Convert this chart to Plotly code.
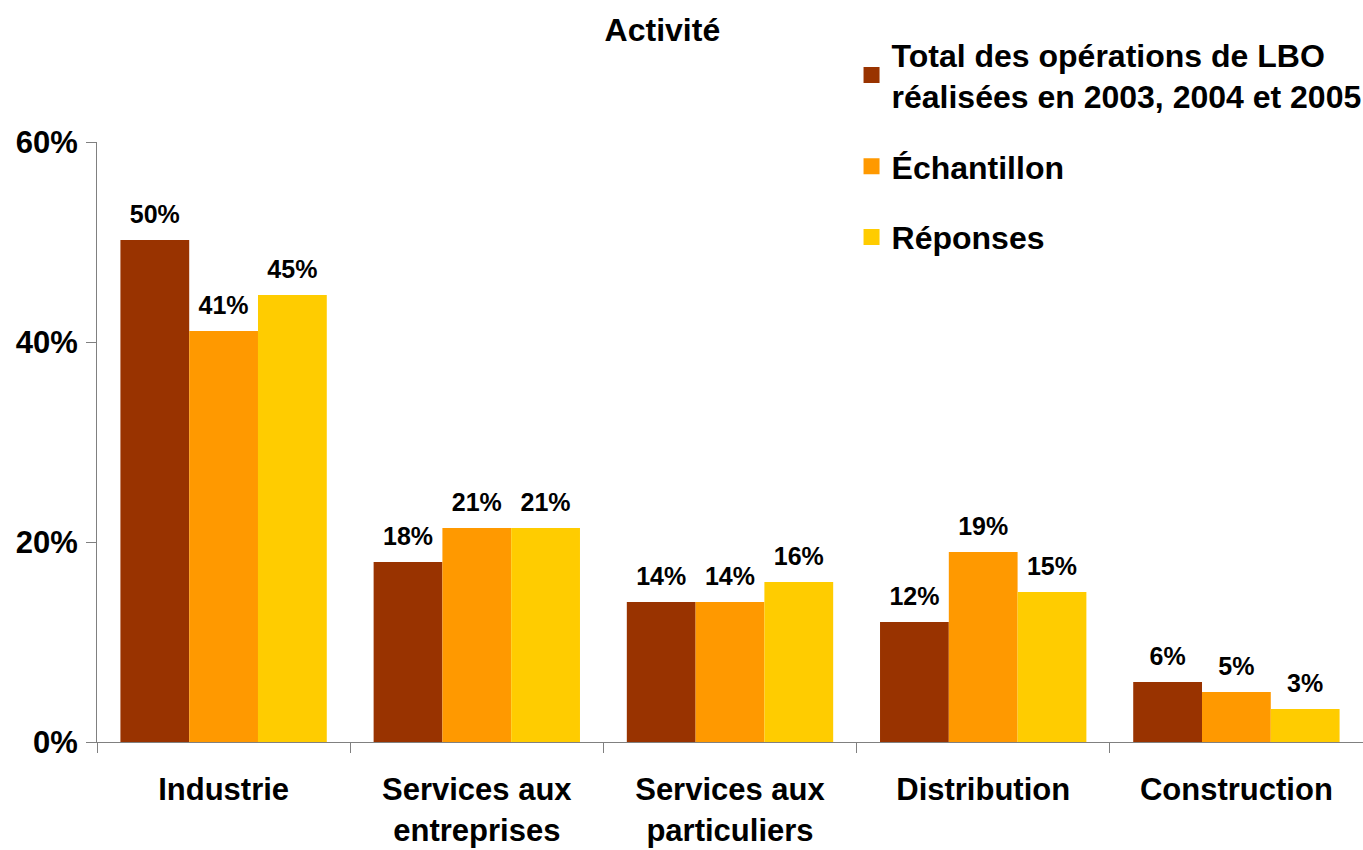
import plotly.graph_objects as go

FONT = "Liberation Sans, Arial, sans-serif"

categories = [
    "Industrie",
    "Services aux<br>entreprises",
    "Services aux<br>particuliers",
    "Distribution",
    "Construction",
]
series_names = [
    "Total des opérations de LBO<br>réalisées en 2003, 2004 et 2005",
    "Échantillon",
    "Réponses",
]
total_lbo = [50.2, 18.0, 14.0, 12.0, 6.0]
echantillon = [41.1, 21.4, 14.0, 19.0, 5.0]
reponses = [44.7, 21.4, 16.0, 15.0, 3.3]
y_ticks = [0, 20, 40, 60]
y_ticktext = [f"{v}%" for v in y_ticks]

COLORS = ["#993300", "#FF9900", "#FFCC00"]
all_series = [total_lbo, echantillon, reponses]

fig = go.Figure()
for i, (name, vals) in enumerate(zip(series_names, all_series)):
    fig.add_trace(go.Bar(
        x=categories, y=vals, name=name, offsetgroup=str(i),
        marker=dict(color=COLORS[i], line_width=0),
        showlegend=False, hoverinfo="skip",
    ))
for i, vals in enumerate(all_series):
    # value labels: grouped scatter with an invisible marker that lifts the text
    fig.add_trace(go.Scatter(
        x=categories, y=vals, mode="markers+text",
        text=[f"{v:.0f}%" for v in vals], textposition="top center",
        textfont=dict(family=FONT, size=25, color="black", weight="bold"),
        marker=dict(size=16, color="rgba(0,0,0,0)"),
        offsetgroup=str(i), showlegend=False, cliponaxis=False,
        hoverinfo="skip",
    ))
for i, name in enumerate(series_names):
    # legend-only marker so the swatch can be a bigger square
    fig.add_trace(go.Scatter(
        x=[None], y=[None], mode="markers", name=name,
        marker=dict(symbol="square", size=22, color=COLORS[i]),
        legendgroup=str(i), showlegend=True,
    ))

fig.update_layout(
    width=1363, height=850,
    font=dict(family=FONT, color="black"),
    paper_bgcolor="white", plot_bgcolor="white",
    margin=dict(l=97, r=0, t=142, b=108, autoexpand=False),
    barmode="group", bargap=0.185, bargroupgap=0,
    scattermode="group", scattergap=0.185,
    title=dict(text="<b>Activité</b>", x=0.486, xanchor="center",
               y=0.965, yanchor="middle",
               font=dict(family=FONT, size=32, color="black")),
    legend=dict(
        x=0.596, xanchor="left", y=1.192, yanchor="top",
        font=dict(family=FONT, size=32, color="black", weight="bold"),
        traceorder="grouped", tracegroupgap=26,
        itemsizing="trace", bgcolor="rgba(0,0,0,0)",
    ),
    xaxis=dict(
        showline=True, linecolor="#808080", linewidth=1,
        ticks="outside", tickson="boundaries", ticklen=10, tickcolor="#808080",
        tickfont=dict(family=FONT, size=31, color="black", weight="bold"),
        showgrid=False, zeroline=False, ticklabelstandoff=20,
    ),
    yaxis=dict(
        range=[0, 60], tickvals=y_ticks, ticktext=y_ticktext,
        showline=True, linecolor="#808080", linewidth=1,
        ticks="outside", ticklen=10, tickcolor="#808080",
        tickfont=dict(family=FONT, size=31, color="black", weight="bold"),
        showgrid=False, zeroline=False, ticklabelstandoff=2,
    ),
)

# the page body has a default 8px margin; drop it so the figure sits at 0,0
fig.write_html(
    "out.html",
    config={"displayModeBar": False},
    post_script="document.body.style.margin='0';",
)
